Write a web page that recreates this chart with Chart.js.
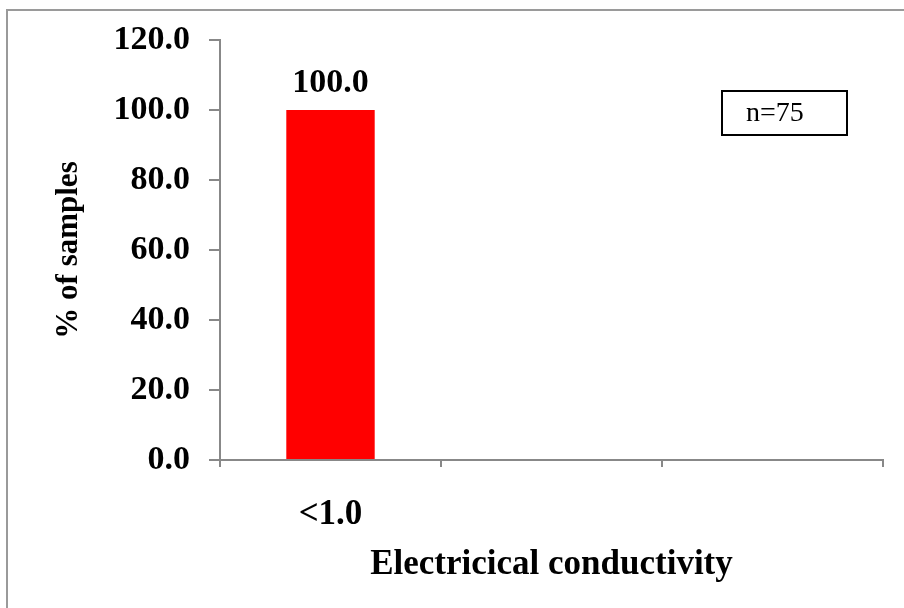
<!DOCTYPE html>
<html>
<head>
<meta charset="utf-8">
<script src="https://cdn.jsdelivr.net/npm/chart.js@4/dist/chart.umd.min.js"></script>
<style>
  html, body { margin: 0; padding: 0; background: #fff; }
  #wrap { position: relative; width: 904px; height: 608px; }
</style>
</head>
<body>
<div id="wrap"><canvas id="c" width="904" height="608"></canvas></div>
<script>
const categories = ['<1.0', '', ''];
const percentSamples = [100.0, null, null];
const yTicks = [0, 20, 40, 60, 80, 100, 120];
const sampleNote = 'n=75';
const xTitle = 'Electricical conductivity';
const yTitle = '% of samples';

const SERIF = "'Liberation Serif', 'Times New Roman', serif";
const AXIS = '#888888';

const framePlugin = {
  id: 'frame',
  beforeDraw(chart) {
    const ctx = chart.ctx;
    ctx.save();
    ctx.fillStyle = '#ffffff';
    ctx.fillRect(0, 0, chart.width, chart.height);
    ctx.strokeStyle = '#9a9a9a';
    ctx.lineWidth = 2;
    ctx.beginPath();
    ctx.moveTo(7, chart.height);
    ctx.lineTo(7, 10);
    ctx.lineTo(chart.width, 10);
    ctx.stroke();
    ctx.restore();
  }
};

const labelPlugin = {
  id: 'valueLabels',
  afterDatasetsDraw(chart) {
    const ctx = chart.ctx;
    const meta = chart.getDatasetMeta(0);
    ctx.save();
    ctx.fillStyle = '#000';
    ctx.font = "bold 34px " + SERIF;
    ctx.textAlign = 'center';
    ctx.textBaseline = 'alphabetic';
    meta.data.forEach((bar, i) => {
      const v = percentSamples[i];
      if (v === null || v === undefined) return;
      ctx.fillText(v.toFixed(1), bar.x, bar.y - 18);
    });
    // n= note box
    const a = chart.chartArea;
    const bx = a.right - 161, by = a.top + 51, bw = 125, bh = 44;
    ctx.strokeStyle = '#000';
    ctx.lineWidth = 2;
    ctx.strokeRect(bx, by, bw, bh);
    ctx.font = "28px " + SERIF;
    ctx.textAlign = 'left';
    ctx.textBaseline = 'middle';
    ctx.fillText(sampleNote, bx + 24, by + bh / 2 + 1);
    ctx.restore();
  }
};

new Chart(document.getElementById('c'), {
  type: 'bar',
  data: {
    labels: categories,
    datasets: [{
      data: percentSamples,
      backgroundColor: '#ff0000',
      borderWidth: 0,
      categoryPercentage: 1.0,
      barPercentage: 0.4
    }]
  },
  options: {
    responsive: false,
    animation: false,
    devicePixelRatio: 1,
    layout: { padding: { left: 0, top: 40, right: 21, bottom: 0 } },
    plugins: { legend: { display: false }, tooltip: { enabled: false } },
    scales: {
      x: {
        offset: true,
        afterFit(scale) { scale.height = 148; },
        grid: { offset: true, drawOnChartArea: false, drawTicks: true, tickLength: 7, color: AXIS, lineWidth: 2 },
        border: { display: true, color: AXIS, width: 2 },
        ticks: { color: '#000', padding: 27, font: { family: SERIF, size: 35, weight: 'bold' }, maxRotation: 0 },
        title: { display: true, text: xTitle, color: '#000', font: { family: SERIF, size: 35, weight: 'bold' }, padding: { top: 0, bottom: 22 } }
      },
      y: {
        min: 0, max: 120,
        afterFit(scale) { scale.width = 220; },
        afterBuildTicks(scale) { scale.ticks = yTicks.map(v => ({ value: v })); },
        grid: { drawOnChartArea: false, drawTicks: true, tickLength: 11, color: AXIS, lineWidth: 2 },
        border: { display: true, color: AXIS, width: 2 },
        ticks: { color: '#000', padding: 19, font: { family: SERIF, size: 34, weight: 'bold' }, callback: v => Number(v).toFixed(1) },
        title: { display: true, text: yTitle, color: '#000', font: { family: SERIF, size: 31, weight: 'bold' }, padding: { top: 50, bottom: 0 } }
      }
    }
  },
  plugins: [framePlugin, labelPlugin]
});
</script>
</body>
</html>
